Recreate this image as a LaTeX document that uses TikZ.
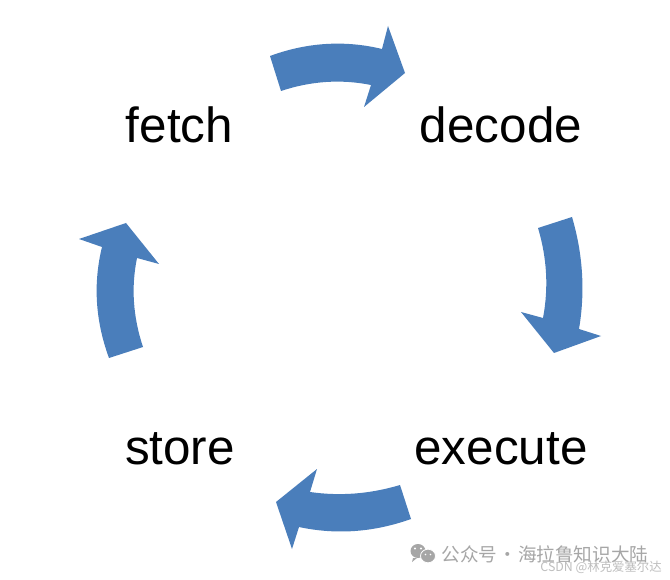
\documentclass[tikz,border=0pt]{standalone}
\usepackage{fontspec}
\setmainfont{Liberation Sans}
\newfontfamily\cjkfont{Noto Sans CJK SC}
\definecolor{arrowblue}{HTML}{4A7EBB}
\definecolor{markgray}{HTML}{A6A6A6}
\definecolor{csdngray}{HTML}{BEBEBE}
\tikzset{
  cyclearrow/.style={fill=arrowblue,draw=none},
  stage/.style={inner sep=0pt,anchor=base,text=black,font=\fontsize{49.4}{52}\selectfont},
  markbubble/.style={fill=markgray,draw=white,line width=0.8pt},
}
\begin{document}
\begin{tikzpicture}[x=1pt,y=-1pt]
\useasboundingbox (0,0) rectangle (670,580);
\fill[white] (0,0) rectangle (670,580);
% arrows
\fill[cyclearrow] (270,56) .. controls (307,42.3) and (345,40) .. (382,49) -- (388,26) -- (405,73) -- (364,107) -- (371,85) .. controls (341,79) and (311,81) .. (281,91) -- cycle;
\fill[cyclearrow] (572,217) .. controls (583,254.3) and (585.3,291.7) .. (579,329) -- (601,336) -- (554,353) -- (521,312) -- (543,318) .. controls (548.7,288) and (547,258) .. (538,228) -- cycle;
\fill[cyclearrow] (411,519) .. controls (373.7,532.3) and (336.3,535) .. (299,527) -- (292,549) -- (276,502) -- (317,469) -- (310,492) .. controls (340,496.3) and (370,494) .. (400,485) -- cycle;
\fill[cyclearrow] (109,358) .. controls (95.3,320.7) and (93,283.7) .. (102,247) -- (79,239) -- (126,223) -- (159,264) -- (137,258) .. controls (131,287.3) and (133,317) .. (143,347) -- cycle;
% labels
\node[stage] (fetch) at (179.5,143) {fetch};
\node[stage] (decode) at (501,143) {decode};
\node[stage] (execute) at (501,464) {execute};
\node[stage] (store) at (180,464) {store};
% watermark
\fill[markgray] (418,551) ellipse (7.5 and 7);
\fill[markgray] (413,558) -- (412,562) -- (417,558) -- cycle;
\draw[markbubble] (428,556) ellipse (7.5 and 6.8);
\fill[white] (415,548.5) circle (1.1) (421,548.5) circle (1.1) (425.5,554.5) circle (0.9) (430.5,554.5) circle (0.9);
\node[inner sep=0pt,anchor=base west,text=markgray,font=\cjkfont\fontsize{18.6}{20}\selectfont] (wm) at (441.5,561) {公众号\hspace{1pt}·\hspace{1pt}海拉鲁知识大陆};
\node[inner sep=0pt,anchor=base east,text=csdngray,font=\cjkfont\fontsize{12.4}{14}\selectfont] (csdn) at (662,571) {CSDN @林克爱塞尔达};
\end{tikzpicture}
\end{document}
